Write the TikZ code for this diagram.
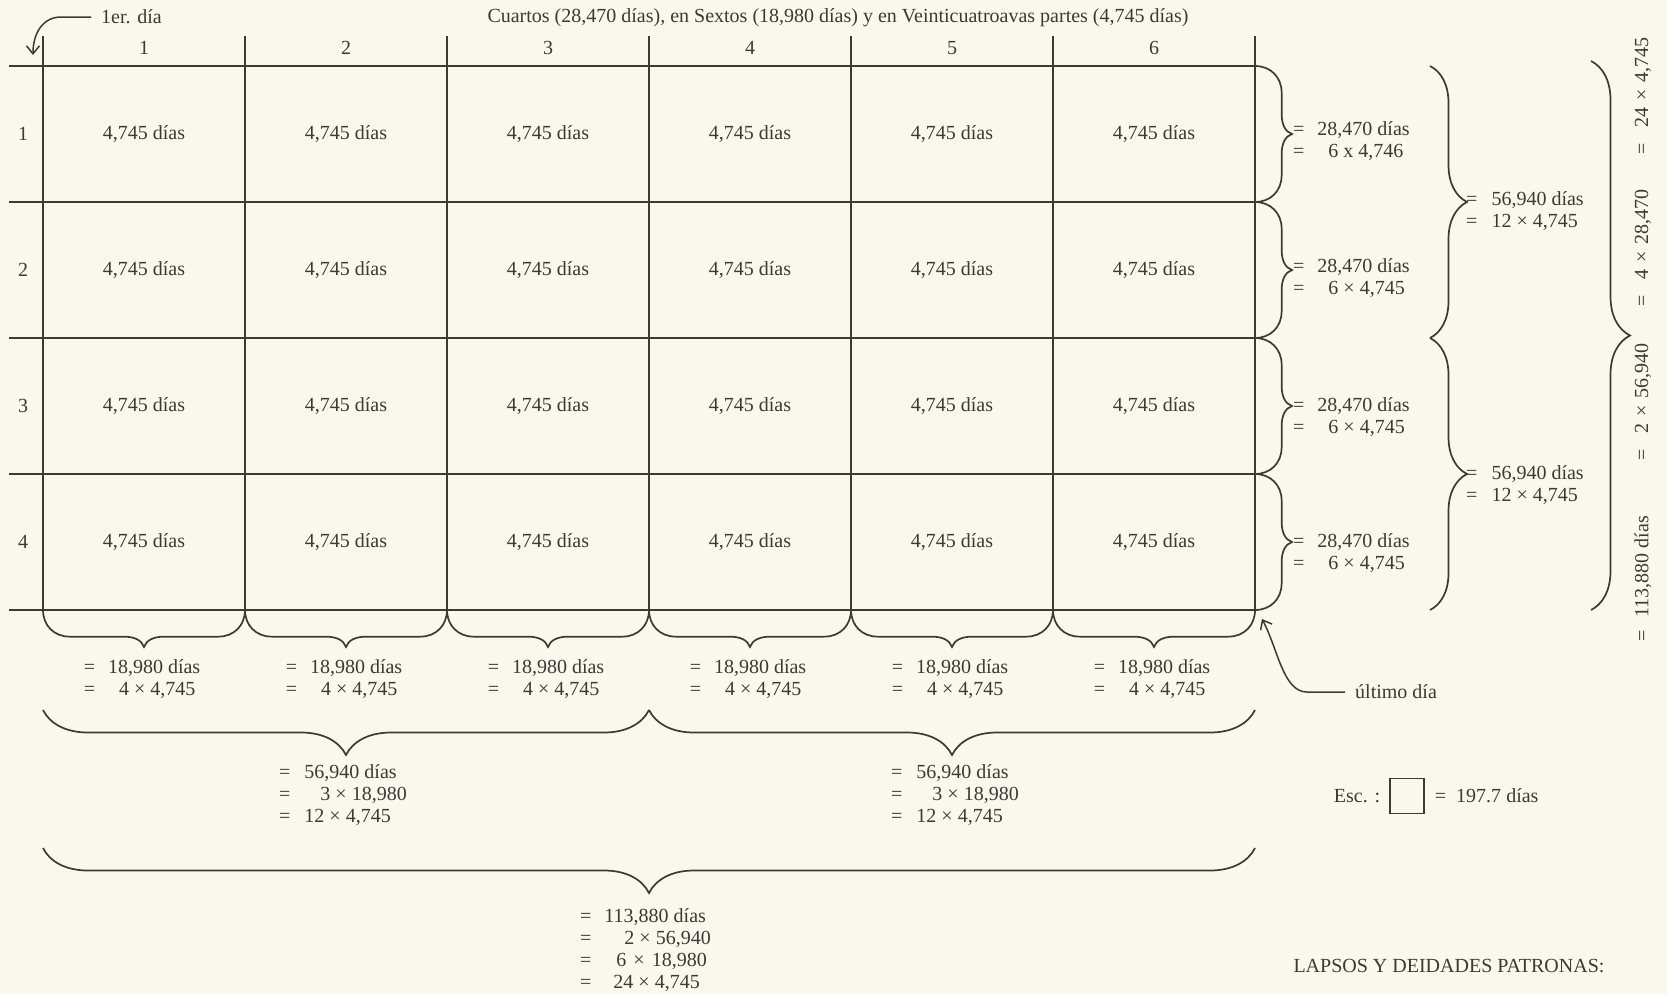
\documentclass[tikz,border=0pt]{standalone}
\usepackage{fontspec}
\setmainfont{Liberation Serif}
\usetikzlibrary{arrows.meta, positioning, decorations.pathreplacing}

\definecolor{paper}{RGB}{250,248,236}
\definecolor{ink}{RGB}{58,58,54}

% brace with deep shoulders and a short tip
\pgfdeclaredecoration{cellbrace}{brace}{%
  \state{brace}[width=+\pgfdecoratedremainingdistance,next state=final]{%
    \pgfpathmoveto{\pgfpointorigin}%
    \pgfpathcurveto
      {\pgfqpoint{0pt}{.42\pgfdecorationsegmentamplitude}}%
      {\pgfqpoint{.3\pgfdecorationsegmentamplitude}{.72\pgfdecorationsegmentamplitude}}%
      {\pgfqpoint{.72\pgfdecorationsegmentamplitude}{.72\pgfdecorationsegmentamplitude}}%
    {%
      \pgftransformxshift{+.5\pgfdecoratedremainingdistance}%
      \pgfpathlineto{\pgfqpoint{-.55\pgfdecorationsegmentamplitude}{.72\pgfdecorationsegmentamplitude}}%
      \pgfpathcurveto
        {\pgfqpoint{-.25\pgfdecorationsegmentamplitude}{.72\pgfdecorationsegmentamplitude}}%
        {\pgfqpoint{-.06\pgfdecorationsegmentamplitude}{.82\pgfdecorationsegmentamplitude}}%
        {\pgfqpoint{0pt}{\pgfdecorationsegmentamplitude}}%
      \pgfpathcurveto
        {\pgfqpoint{.06\pgfdecorationsegmentamplitude}{.82\pgfdecorationsegmentamplitude}}%
        {\pgfqpoint{.25\pgfdecorationsegmentamplitude}{.72\pgfdecorationsegmentamplitude}}%
        {\pgfqpoint{.55\pgfdecorationsegmentamplitude}{.72\pgfdecorationsegmentamplitude}}%
    }%
    {%
      \pgftransformxshift{+\pgfdecoratedremainingdistance}%
      \pgfpathlineto{\pgfqpoint{-.72\pgfdecorationsegmentamplitude}{.72\pgfdecorationsegmentamplitude}}%
      \pgfpathcurveto
        {\pgfqpoint{-.3\pgfdecorationsegmentamplitude}{.72\pgfdecorationsegmentamplitude}}%
        {\pgfqpoint{0pt}{.42\pgfdecorationsegmentamplitude}}%
        {\pgfpointorigin}%
    }%
  }%
  \state{final}{}%
}

\begin{document}
\begin{tikzpicture}[
    x=1pt, y=1pt,
    font=\fontsize{20}{22}\selectfont,
    every node/.style={text=ink, inner sep=0pt},
    gline/.style={draw=ink, line width=1.7pt},
    cbrace/.style={draw=ink, line width=1.7pt, decorate, decoration={cellbrace, amplitude=37pt}},
    gbrace/.style={draw=ink, line width=1.7pt, decorate, decoration={brace, amplitude=#1}},
    tally/.style={align=left, anchor=west},
    pointer/.style={draw=ink, line width=1.5pt, -{Straight Barb[length=8pt, width=13pt]}}
]

% Page
\useasboundingbox (0,0) rectangle (1667,-994);
\fill[paper] (0,0) rectangle (1667,-994);

% Grid points
\foreach \i in {0,...,6} {
  \coordinate (top-\i) at ({43+202*\i},-36);
  \foreach \j in {0,...,4}
    \coordinate (g-\i-\j) at ({43+202*\i},{-66-136*\j});
}
\foreach \j in {0,...,4}
  \coordinate (lft-\j) at (9,{-66-136*\j});

% Grid
\foreach \i in {0,...,6} \draw[gline] (top-\i) -- (g-\i-4);
\foreach \j in {0,...,4} \draw[gline] (lft-\j) -- (g-6-\j);

% Nodes
\node (title) at (838,-18) {Cuartos (28,470 días), en Sextos (18,980 días) y en Veinticuatroavas partes (4,745 días)};
\foreach \i in {1,...,6} {
  \node (col-\i) at ({202*\i-58},-48) {\i};
  \foreach \j in {1,...,4}
    \node (cell-\i-\j) at ({202*\i-58},{2-136*\j}) {4,745 días};
}
\foreach \j in {1,...,4}
  \node (row-\j) at (23,{2-136*\j}) {\j};

% Braces
\foreach \a/\b in {0/1,1/2,2/3,3/4}
  \draw[cbrace] (g-6-\a) -- (g-6-\b);
\foreach \a/\b in {1/0,2/1,3/2,4/3,5/4,6/5}
  \draw[cbrace] (g-\a-4) -- (g-\b-4);
\draw[gbrace=37pt] ([xshift=175pt]g-6-0) -- ([xshift=175pt]g-6-2);
\draw[gbrace=37pt] ([xshift=175pt]g-6-2) -- ([xshift=175pt]g-6-4);
\draw[gbrace=39pt] ([xshift=336pt, yshift=5pt]g-6-0) -- ([xshift=336pt]g-6-4);
\draw[gbrace=45pt] ([yshift=-100pt]g-6-4) -- ([yshift=-100pt]g-3-4);
\draw[gbrace=45pt] ([yshift=-100pt]g-3-4) -- ([yshift=-100pt]g-0-4);
\draw[gbrace=45pt] ([yshift=-238pt]g-6-4) -- ([yshift=-238pt]g-0-4);

% Sums
\node[tally] (rsum-1) at (1293,-141) {=\hspace{13pt}28,470 días\\=\hspace{24pt}6 x 4,746};
\node[tally] (rsum-2) at (1293,-278) {=\hspace{13pt}28,470 días\\=\hspace{24pt}6 × 4,745};
\node[tally] (rsum-3) at (1293,-417) {=\hspace{13pt}28,470 días\\=\hspace{24pt}6 × 4,745};
\node[tally] (rsum-4) at (1293,-553) {=\hspace{13pt}28,470 días\\=\hspace{24pt}6 × 4,745};
\foreach \i in {1,...,6}
  \node[align=left] (csum-\i) at ({202*\i-60},-679) {=\hspace{13pt}18,980 días\\=\hspace{24pt}4 × 4,745};
\node[tally] (hsum-1) at (1466,-211) {=\hspace{14pt}56,940 días\\=\hspace{14pt}12 × 4,745};
\node[tally] (hsum-2) at (1466,-485) {=\hspace{14pt}56,940 días\\=\hspace{14pt}12 × 4,745};
\node[tally] (bsum-1) at (279,-795) {=\hspace{14pt}56,940 días\\=\hspace{30pt}3 × 18,980\\=\hspace{14pt}12 × 4,745};
\node[tally] (bsum-2) at (891,-795) {=\hspace{14pt}56,940 días\\=\hspace{30pt}3 × 18,980\\=\hspace{14pt}12 × 4,745};
\node[tally] (total) at (580,-950) {=\hspace{13pt}113,880 días\\=\hspace{33pt}2 × 56,940\\=\hspace{25pt}6\hspace{7pt}×\hspace{7pt}18,980\\=\hspace{22pt}24 × 4,745};
\node[rotate=90] (vsum-1) at (1643,-579) {=\hspace{13pt}113,880 días};
\node[rotate=90] (vsum-2) at (1643,-402) {=\hspace{16pt}2\hspace{7pt}×\hspace{7pt}56,940};
\node[rotate=90] (vsum-3) at (1643,-248) {=\hspace{16pt}4\hspace{7pt}×\hspace{7pt}28,470};
\node[rotate=90] (vsum-4) at (1643,-96) {=\hspace{16pt}24\hspace{7pt}×\hspace{7pt}4,745};

% First and last day
\node[anchor=west] (firstday) at (101,-17) {1er. día};
\coordinate (firsttip) at (33,-55);
\draw[pointer] ([xshift=-10pt]firstday.west) -- ++(-30,0) .. controls +(-18,0) and +(0,22) .. (firsttip);
\node[anchor=west] (lastday) at (1355,-692) {último día};
\coordinate (lasttip) at (1262,-619);
\draw[pointer] ([xshift=-10pt]lastday.west) -- ++(-38,0) .. controls +(-24,0) and +(16,-30) .. (lasttip);

% Scale
\node[draw=ink, line width=1.5pt, minimum width=34pt, minimum height=35pt] (scalebox) at (1407,-796) {};
\node[left=9pt of scalebox] (esc) {Esc. :};
\node[right=10pt of scalebox] (scale) {=\hspace{10pt}197.7 días};
\node (lapsos) at (1449,-966) {LAPSOS Y DEIDADES PATRONAS:};

\end{tikzpicture}
\end{document}
